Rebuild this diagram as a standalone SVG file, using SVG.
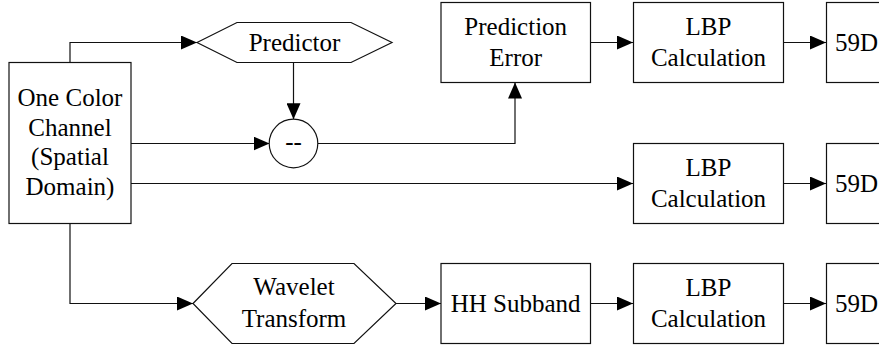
<svg xmlns="http://www.w3.org/2000/svg" width="879" height="349" viewBox="0 0 879 349">
  <style>
    .box { fill: #fff; stroke: #111; stroke-width: 1.2; }
    .lbl { font-family: "Liberation Serif", "Times New Roman", serif; font-size: 25px; fill: #000; text-anchor: middle; }
    .lbl-left { text-anchor: start; }
    .wire { fill: none; stroke: #111; stroke-width: 1.2; }
  </style>
  <defs>
    <marker id="arrow" markerUnits="userSpaceOnUse" markerWidth="17" markerHeight="14" refX="16" refY="7" orient="auto">
      <path d="M0,0 L16,7 L0,14 z" fill="#000"/>
    </marker>
  </defs>
  <rect width="879" height="349" fill="#fff"/>

  <g id="connectors">
    <path class="wire" d="M70,62.5 V42.5 H197" marker-end="url(#arrow)"/>
    <path class="wire" d="M293.5,62.5 V119.3" marker-end="url(#arrow)"/>
    <path class="wire" d="M131,143.5 H269.5" marker-end="url(#arrow)"/>
    <path class="wire" d="M318,143.5 H515 V82.5" marker-end="url(#arrow)"/>
    <path class="wire" d="M590.5,42.5 H633" marker-end="url(#arrow)"/>
    <path class="wire" d="M783.5,42.5 H826" marker-end="url(#arrow)"/>
    <path class="wire" d="M131,183.5 H633" marker-end="url(#arrow)"/>
    <path class="wire" d="M783.5,183.5 H826" marker-end="url(#arrow)"/>
    <path class="wire" d="M70,223.5 V303.5 H193" marker-end="url(#arrow)"/>
    <path class="wire" d="M396,303.5 H441" marker-end="url(#arrow)"/>
    <path class="wire" d="M590.5,303.5 H633" marker-end="url(#arrow)"/>
    <path class="wire" d="M783.5,303.5 H826" marker-end="url(#arrow)"/>
  </g>

  <g id="source">
    <rect class="box" x="9" y="62.5" width="122" height="161"/>
    <text class="lbl" x="70" y="106">One Color</text>
    <text class="lbl" x="70" y="135.5">Channel</text>
    <text class="lbl" x="70" y="165">(Spatial</text>
    <text class="lbl" x="70" y="195">Domain)</text>
  </g>

  <g id="predictor">
    <polygon class="box" points="197,42.5 237,22.5 351,22.5 392,42.5 351,62.5 237,62.5"/>
    <text class="lbl" x="294.5" y="51">Predictor</text>
  </g>

  <g id="subtract">
    <circle class="box" cx="293.5" cy="143.5" r="24.3"/>
    <text class="lbl" x="293.5" y="150">--</text>
  </g>

  <g id="prediction-error">
    <rect class="box" x="441" y="2.5" width="149.5" height="80"/>
    <text class="lbl" x="515.7" y="35">Prediction</text>
    <text class="lbl" x="515.7" y="65.7">Error</text>
  </g>

  <g id="lbp-1">
    <rect class="box" x="633.5" y="2.5" width="150" height="80"/>
    <text class="lbl" x="708.5" y="35">LBP</text>
    <text class="lbl" x="708.5" y="65.7">Calculation</text>
  </g>

  <g id="feat-1">
    <rect class="box" x="826.5" y="2.5" width="150" height="80"/>
    <text class="lbl lbl-left" x="835" y="51">59D</text>
  </g>

  <g id="lbp-2">
    <rect class="box" x="633.5" y="143.5" width="150" height="80"/>
    <text class="lbl" x="708.5" y="176">LBP</text>
    <text class="lbl" x="708.5" y="206.7">Calculation</text>
  </g>

  <g id="feat-2">
    <rect class="box" x="826.5" y="143.5" width="150" height="80"/>
    <text class="lbl lbl-left" x="835" y="192">59D</text>
  </g>

  <g id="wavelet">
    <polygon class="box" points="193,303.5 232,263.5 354,263.5 396,303.5 354,343.5 232,343.5"/>
    <text class="lbl" x="294" y="295">Wavelet</text>
    <text class="lbl" x="294" y="326.7">Transform</text>
  </g>

  <g id="hh-subband">
    <rect class="box" x="441" y="263.5" width="149.5" height="80"/>
    <text class="lbl" x="515.7" y="312">HH Subband</text>
  </g>

  <g id="lbp-3">
    <rect class="box" x="633.5" y="263.5" width="150" height="80"/>
    <text class="lbl" x="708.5" y="296">LBP</text>
    <text class="lbl" x="708.5" y="326.7">Calculation</text>
  </g>

  <g id="feat-3">
    <rect class="box" x="826.5" y="263.5" width="150" height="80"/>
    <text class="lbl lbl-left" x="835" y="312">59D</text>
  </g>
</svg>
